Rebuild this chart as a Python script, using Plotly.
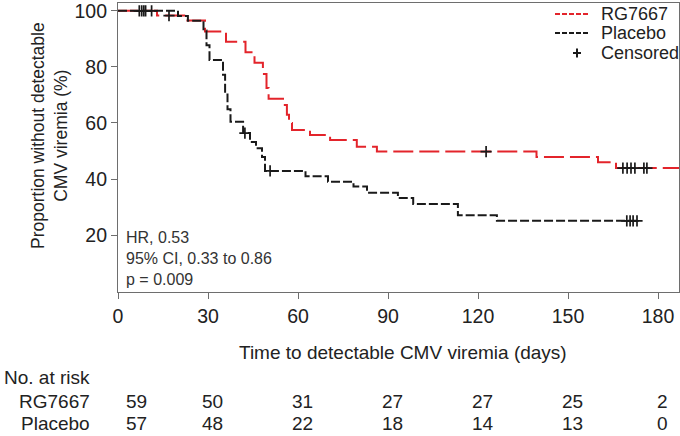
import plotly.graph_objects as go

# ---- data ----
rg_time = [0, 13, 22.5, 29, 36, 42.5, 45.5, 48.3, 49.5, 50.2, 55.0, 56.3, 57.0, 58.0, 64.0, 70.7, 79.6, 86.3, 139.5, 160, 166, 187]
rg_surv = [100, 98.3, 96.6, 92.6, 89.0, 85.2, 81.5, 77.5, 72.5, 68.6, 66.4, 62.9, 60.0, 57.5, 55.7, 53.9, 51.5, 49.8, 47.9, 46.0, 43.9, 43.9]
rg_cens_time = [17, 122.7, 168.3, 169.7, 171.0, 172.3, 175.3, 176.3]
rg_cens_surv = [98.3, 49.8, 43.9, 43.9, 43.9, 43.9, 43.9, 43.9]

pl_time = [0, 20, 23.3, 28.5, 29.5, 30.5, 35.0, 35.7, 36.5, 37.5, 41.7, 44, 46, 48, 49, 62.5, 70, 78.5, 83, 93.3, 98.4, 113.3, 126.3, 173]
pl_surv = [100, 98.2, 96.5, 93.0, 87.7, 82.5, 77.2, 70.2, 64.9, 60.4, 56.4, 53.2, 51.0, 47.9, 42.9, 41.0, 39.0, 37.3, 35.1, 33.2, 31.1, 27.1, 25.1, 25.1]
pl_cens_time = [7.1, 7.9, 8.6, 9.2, 11.2, 42.3, 50.7, 169.6, 170.7, 171.7, 173.0]
pl_cens_surv = [100, 100, 100, 100, 100, 56.4, 42.9, 25.1, 25.1, 25.1, 25.1]

risk_times = [0, 30, 60, 90, 120, 150, 180]
risk_rg = [59, 50, 31, 27, 27, 25, 2]
risk_pl = [57, 48, 22, 18, 14, 13, 0]

x_ticks = [0, 30, 60, 90, 120, 150, 180]
y_ticks = [20, 40, 60, 80, 100]

stats_text = ["HR, 0.53", "95% CI, 0.33 to 0.86", "p = 0.009"]
legend_names = ["RG7667", "Placebo", "Censored"]

FONT = "Liberation Sans, Arial, sans-serif"
TXT = "#222222"
AX = "#6e6e6e"
RED = "#e3242b"
BLK = "#1a1a1a"

fig = go.Figure()
fig.add_trace(go.Scatter(x=rg_time, y=rg_surv, mode="lines", line_shape="hv",
                         line=dict(color=RED, width=2, dash="20px,6px"), name="RG7667"))
fig.add_trace(go.Scatter(x=pl_time, y=pl_surv, mode="lines", line_shape="hv",
                         line=dict(color=BLK, width=2, dash="9px,3px"), name="Placebo"))
fig.add_trace(go.Scatter(x=rg_cens_time + pl_cens_time, y=rg_cens_surv + pl_cens_surv, mode="markers",
                         marker=dict(symbol="cross-thin", size=8, line=dict(color=BLK, width=1.7), color=BLK),
                         name="Censored"))

# plot area in px: x 118..679, y 3..292
def px_x(p):
    return (p - 118) / 561.0

def px_y(p):
    return (292 - p) / 289.0

ann = []
ann.append(dict(x=2, y=px_y(258), xref="x", yref="paper", text="<br>".join(stats_text), showarrow=False,
                xanchor="left", yanchor="middle", align="left", font=dict(size=16, color="#333333", family=FONT)))

ann.append(dict(x=px_x(403), y=px_y(352), xref="paper", yref="paper", text="Time to detectable CMV viremia (days)",
                showarrow=False, xanchor="center", yanchor="middle", font=dict(size=19, color=TXT, family=FONT)))
ann.append(dict(x=px_x(50), y=px_y(136), xref="paper", yref="paper",
                text="Proportion without detectable<br>CMV viremia (%)", textangle=-90,
                showarrow=False, xanchor="center", yanchor="middle", font=dict(size=17.5, color=TXT, family=FONT)))

ann.append(dict(x=px_x(2), y=px_y(377), xref="paper", yref="paper", text="No. at risk", showarrow=False,
                xanchor="left", yanchor="middle", font=dict(size=19, color=TXT, family=FONT)))
ann.append(dict(x=px_x(92), y=px_y(401), xref="paper", yref="paper", text="RG7667", showarrow=False,
                xanchor="right", yanchor="middle", font=dict(size=19, color=TXT, family=FONT)))
ann.append(dict(x=px_x(92), y=px_y(424), xref="paper", yref="paper", text="Placebo", showarrow=False,
                xanchor="right", yanchor="middle", font=dict(size=19, color=TXT, family=FONT)))
for i, t in enumerate(risk_times):
    xs = t + (6 if i == 0 else 1.5)
    ann.append(dict(x=xs, y=px_y(401), xref="x", yref="paper", text=str(risk_rg[i]), showarrow=False,
                    xanchor="center", yanchor="middle", font=dict(size=19, color=TXT, family=FONT)))
    ann.append(dict(x=xs, y=px_y(424), xref="x", yref="paper", text=str(risk_pl[i]), showarrow=False,
                    xanchor="center", yanchor="middle", font=dict(size=19, color=TXT, family=FONT)))

# manual legend
leg_rows = [14, 33, 53]
shapes = []
shapes.append(dict(type="line", xref="paper", yref="paper", x0=px_x(555), x1=px_x(590),
                   y0=px_y(leg_rows[0]), y1=px_y(leg_rows[0]), line=dict(color=RED, width=2, dash="5px,2px")))
shapes.append(dict(type="line", xref="paper", yref="paper", x0=px_x(555), x1=px_x(590),
                   y0=px_y(leg_rows[1]), y1=px_y(leg_rows[1]), line=dict(color=BLK, width=2, dash="5px,2px")))
shapes.append(dict(type="line", xref="paper", yref="paper", x0=px_x(573), x1=px_x(581),
                   y0=px_y(leg_rows[2]), y1=px_y(leg_rows[2]), line=dict(color=BLK, width=2)))
shapes.append(dict(type="line", xref="paper", yref="paper", x0=px_x(577), x1=px_x(577),
                   y0=px_y(leg_rows[2] - 4.5), y1=px_y(leg_rows[2] + 4.5), line=dict(color=BLK, width=2)))
for name, r in zip(legend_names, leg_rows):
    ann.append(dict(x=px_x(599), y=px_y(r), xref="paper", yref="paper", text=name, showarrow=False,
                    xanchor="left", yanchor="middle", font=dict(size=18, color=TXT, family=FONT)))

fig.update_layout(
    width=680, height=436,
    margin=dict(l=118, r=1, t=3, b=144),
    paper_bgcolor="white", plot_bgcolor="white",
    font=dict(family=FONT, size=19, color=TXT),
    annotations=ann,
    shapes=shapes,
    showlegend=False,
)
fig.update_xaxes(range=[0, 187], tickvals=x_ticks, ticktext=[str(v) for v in x_ticks],
                 showgrid=False, zeroline=False, showline=True, linecolor=AX, linewidth=1.2, mirror=True,
                 ticks="outside", ticklen=6, tickcolor=AX, tickwidth=1.2, ticklabeloverflow="allow",
                 tickfont=dict(size=19.5, color=TXT, family=FONT))
fig.update_yaxes(range=[-0.3, 102.8], tickvals=y_ticks, ticktext=[str(v) for v in y_ticks],
                 showgrid=False, zeroline=False, showline=True, linecolor=AX, linewidth=1.2, mirror=True,
                 ticks="outside", ticklen=6, tickcolor=AX, tickwidth=1.2, ticklabeloverflow="allow",
                 tickfont=dict(size=19.5, color=TXT, family=FONT))

fig.write_html("out.html", config={"displayModeBar": False},
               post_script="document.body.style.margin='0';document.body.style.overflow='hidden';")
